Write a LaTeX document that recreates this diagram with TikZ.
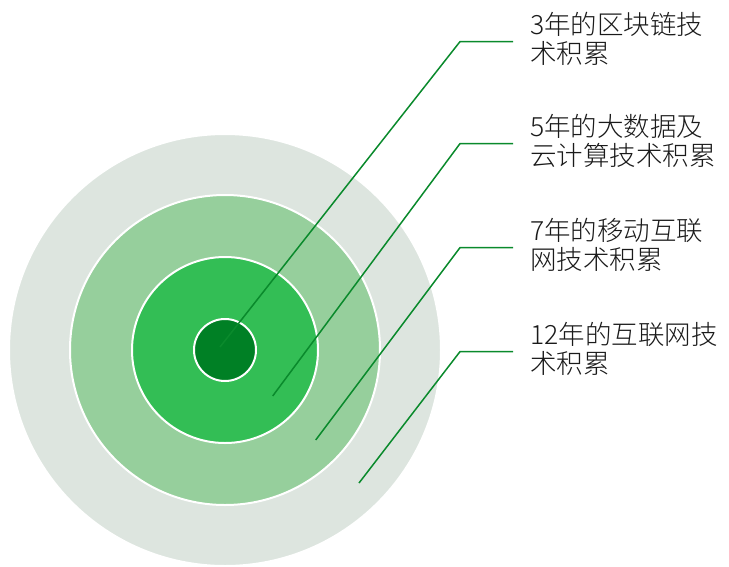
\documentclass[tikz,border=0pt]{standalone}
\usepackage{fontspec}
\newfontfamily\cjk{Noto Sans CJK SC Light}
\definecolor{ringA}{HTML}{DDE5DF}
\definecolor{ringB}{HTML}{96CF9C}
\definecolor{ringC}{HTML}{33BE55}
\definecolor{ringD}{HTML}{008025}
\definecolor{connc}{HTML}{0A8A2C}
\definecolor{txtc}{HTML}{1A1A1A}
\begin{document}
\begin{tikzpicture}[x=1pt,y=-1pt,
  ring/.style={circle, draw=white, line width=2pt, inner sep=0pt},
  conn/.style={draw=connc, line width=1.5pt},
  lbl/.style={anchor=base west, align=left, inner sep=0pt, text=txtc,
    font=\cjk\fontsize{26.5}{29.5}\selectfont}]
\useasboundingbox (0,0) rectangle (729,566);
\node[ring, fill=ringA, minimum size=432pt] (c4) at (225,350) {};
\node[ring, fill=ringB, minimum size=310pt] (c3) at (225,350) {};
\node[ring, fill=ringC, minimum size=186pt] (c2) at (225,350) {};
\node[ring, fill=ringD, minimum size=62pt] (c1) at (225,350) {};
\coordinate (e1) at (220,347);
\coordinate (e2) at (272.7,396);
\coordinate (e3) at (315.7,440);
\coordinate (e4) at (359,483);
\node[lbl] (t1) at (530,63.5) {3年的区块链技\\术积累};
\node[lbl] (t2) at (530,165.5) {5年的大数据及\\云计算技术积累};
\node[lbl] (t3) at (530,269.5) {7年的移动互联\\网技术积累};
\node[lbl] (t4) at (530,373.5) {12年的互联网技\\术积累};
\draw[conn] (e1) -- ([xshift=-70pt,yshift=-3pt]t1.west) -- ([xshift=-17pt,yshift=-3pt]t1.west);
\draw[conn] (e2) -- ([xshift=-70pt,yshift=-3pt]t2.west) -- ([xshift=-17pt,yshift=-3pt]t2.west);
\draw[conn] (e3) -- ([xshift=-70pt,yshift=-3pt]t3.west) -- ([xshift=-17pt,yshift=-3pt]t3.west);
\draw[conn] (e4) -- ([xshift=-70pt,yshift=-3pt]t4.west) -- ([xshift=-17pt,yshift=-3pt]t4.west);
\end{tikzpicture}
\end{document}
